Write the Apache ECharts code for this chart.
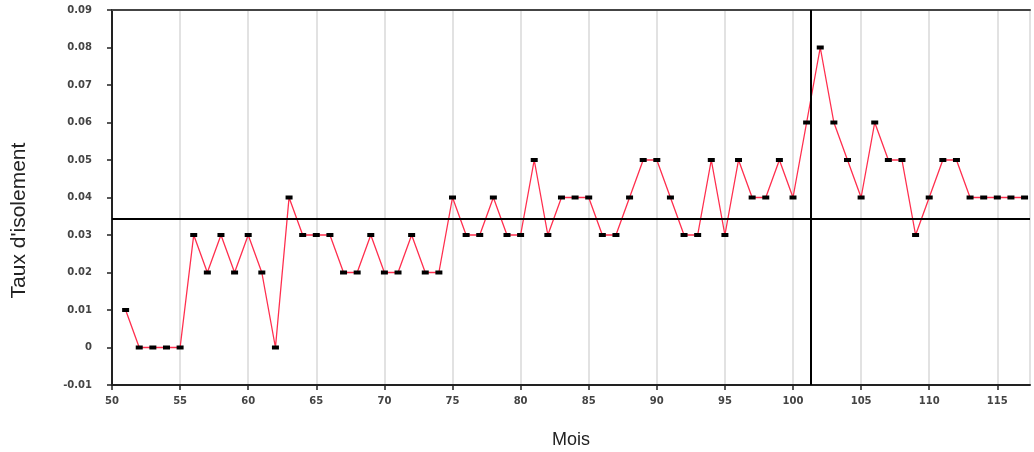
<!DOCTYPE html>
<html>
<head>
<meta charset="utf-8">
<script src="https://cdn.jsdelivr.net/npm/echarts@6/dist/echarts.min.js"></script>
<style>
html,body{margin:0;padding:0;background:#fff;}
#chart{width:1034px;height:452px;}
</style>
</head>
<body>
<div id="chart"></div>
<script>
// Months (x) and isolation rate (y)
const months = [51,52,53,54,55,56,57,58,59,60,61,62,63,64,65,66,67,68,69,70,
  71,72,73,74,75,76,77,78,79,80,81,82,83,84,85,86,87,88,89,90,
  91,92,93,94,95,96,97,98,99,100,101,102,103,104,105,106,107,108,109,110,
  111,112,113,114,115,116,117];
const rates = [0.01,0,0,0,0,0.03,0.02,0.03,0.02,0.03,0.02,0,0.04,0.03,0.03,0.03,0.02,0.02,0.03,0.02,
  0.02,0.03,0.02,0.02,0.04,0.03,0.03,0.04,0.03,0.03,0.05,0.03,0.04,0.04,0.04,0.03,0.03,0.04,0.05,0.05,
  0.04,0.03,0.03,0.05,0.03,0.05,0.04,0.04,0.05,0.04,0.06,0.08,0.06,0.05,0.04,0.06,0.05,0.05,0.03,0.04,
  0.05,0.05,0.04,0.04,0.04,0.04,0.04];
const xTickLabels = ['50','55','60','65','70','75','80','85','90','95','100','105','110','115'];
const yTickLabels = ['-0.01','0','0.01','0.02','0.03','0.04','0.05','0.06','0.07','0.08','0.09'];
const refX = [101.3];
const refY = [0.0344];

const chart = echarts.init(document.getElementById('chart'), null, {renderer:'canvas'});
const labelFont = {fontFamily:'DejaVu Sans, sans-serif', fontSize:10, fontWeight:'bold', color:'#444'};
chart.setOption({
  animation:false,
  backgroundColor:'#fff',
  grid:{left:112, top:10, right:4, bottom:67, containLabel:false, outerBoundsMode:'none'},
  xAxis:[{
    type:'value', min:50, max:117.4, interval:5,
    name:'Mois', nameLocation:'middle', nameGap:46,
    nameTextStyle:{fontFamily:'Liberation Sans, Arial, sans-serif', fontSize:18, color:'#222'},
    axisLine:{show:true, onZero:false, lineStyle:{color:'#222', width:2}},
    axisTick:{show:true, length:5, lineStyle:{color:'#222', width:1.5}},
    axisLabel:Object.assign({margin:11, showMaxLabel:false, formatter:function(v){
      const i = Math.round((v-50)/5);
      return (Math.abs(v-50-i*5)<1e-6 && xTickLabels[i]!==undefined) ? xTickLabels[i] : '';
    }}, labelFont),
    splitLine:{show:true, lineStyle:{color:'#d9d9d9', width:1.5}}
  },{
    type:'value', position:'top', min:50, max:117.4,
    axisLine:{show:true, onZero:false, lineStyle:{color:'#444', width:2}},
    axisTick:{show:false}, axisLabel:{show:false}, splitLine:{show:false}
  }],
  yAxis:{
    type:'value', min:-0.01, max:0.09, interval:0.01,
    name:"Taux d'isolement", nameLocation:'middle', nameGap:82, nameRotate:90,
    nameTextStyle:{fontFamily:'Liberation Sans, Arial, sans-serif', fontSize:21, color:'#222', padding:[0,46,0,0]},
    axisLine:{show:true, onZero:false, lineStyle:{color:'#222', width:2}},
    axisTick:{show:true, length:5, lineStyle:{color:'#222', width:1.5}},
    axisLabel:Object.assign({margin:20, formatter:function(v){
      const i = Math.round((v+0.01)/0.01);
      return yTickLabels[i] !== undefined ? yTickLabels[i] : '';
    }}, labelFont),
    splitLine:{show:false}
  },
  series:[{
    type:'line',
    data:months.map((m,i)=>[m, rates[i]]),
    symbol:'rect', symbolSize:[7,4], showAllSymbol:true,
    itemStyle:{color:'#000'},
    lineStyle:{color:'#ff2f4e', width:1.3},
    markLine:{
      silent:true, symbol:'none', animation:false, precision:6,
      label:{show:false},
      lineStyle:{color:'#000', width:2, type:'solid'},
      data:[].concat(refX.map(v=>({xAxis:v})), refY.map(v=>({yAxis:v})))
    },
    z:3
  }]
});
</script>
</body>
</html>
